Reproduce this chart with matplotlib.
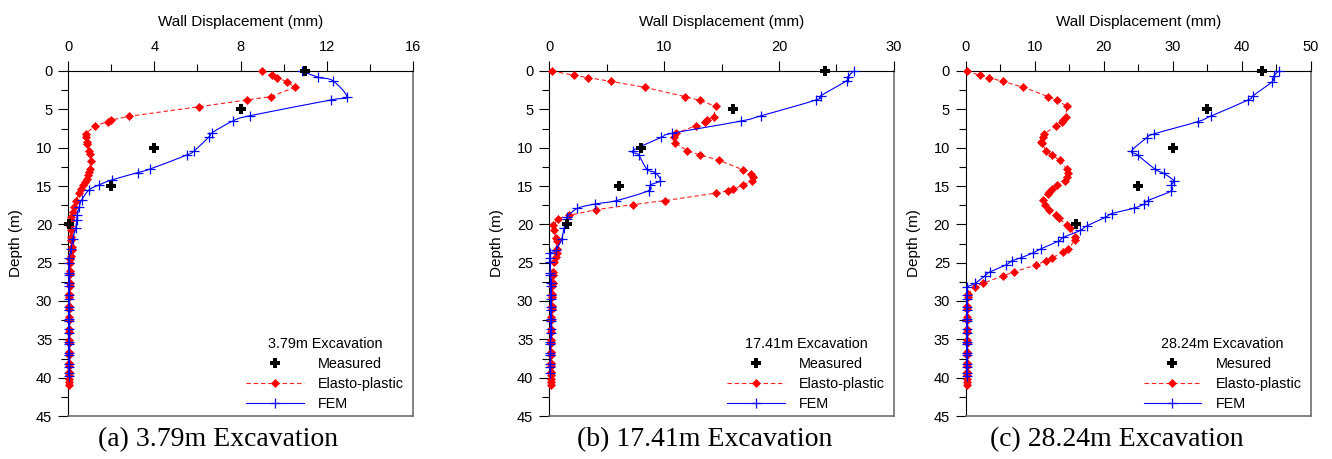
import matplotlib.pyplot as plt
from matplotlib.lines import Line2D
from matplotlib.patches import PathPatch
from matplotlib.path import Path
from matplotlib.ticker import MultipleLocator

plt.rcParams["font.family"] = ["Liberation Sans", "DejaVu Sans"]

# measured inclinometer readings (same depths in all stages)
measured_depth = [0, 5, 10, 15, 20]

# ---------------- (a) 3.79 m excavation ----------------
a_measured = [11.0, 8.0, 4.0, 2.0, 0.05]

a_ep_depth = [0, 0.57, 0.87, 1.39, 2.13, 3.35, 3.78, 4.65, 5.91, 6.4,
              6.6, 7.13, 8.17, 8.65, 9.22, 9.52, 10.39, 10.83, 11.7, 12.74,
              13.17, 13.6, 14.04, 14.48, 14.91, 15.43, 15.96, 16.96, 17.69, 18.35,
              19.0, 19.43, 20.2, 20.7, 21.6, 22.0, 23.0, 23.4, 24.1, 24.5,
              25.0, 26.1, 26.5, 27.6, 28.0, 29.1, 29.5, 30.6, 31.0, 32.1,
              32.5, 33.6, 34.0, 35.1, 35.5, 36.6, 37.0, 38.1, 38.5, 39.3,
              39.7, 40.2, 40.6, 41.0]
a_ep_disp = [9.01, 9.45, 9.68, 10.15, 10.52, 9.40, 8.29, 6.09, 2.82, 1.98,
             1.86, 1.24, 0.82, 0.82, 0.85, 0.88, 0.96, 1.0, 1.04, 1.0,
             0.98, 0.93, 0.85, 0.79, 0.70, 0.60, 0.50, 0.36, 0.26, 0.20,
             0.14, 0.12, 0.10, 0.11, 0.13, 0.14, 0.15, 0.15, 0.12, 0.10,
             0.08, 0.07, 0.07, 0.06, 0.06, 0.05, 0.05, 0.05, 0.05, 0.05,
             0.05, 0.05, 0.05, 0.05, 0.05, 0.05, 0.05, 0.05, 0.05, 0.05,
             0.05, 0.05, 0.05, 0.05]

a_fem_depth = [0, 0.83, 1.26, 3.35, 3.78, 5.83, 6.52, 8.04, 8.57, 10.39,
               10.96, 12.78, 13.26, 14.22, 14.87, 15.52, 16.83, 17.69, 18.78, 19.43,
               20.52, 21.95, 23.26, 24.43, 25.0, 26.3, 26.6, 27.7, 28.1, 29.2,
               29.7, 30.8, 31.2, 32.3, 32.6, 33.7, 34.2, 35.3, 35.6, 36.8,
               37.1, 38.2, 38.6, 39.4, 39.8]
a_fem_disp = [10.84, 11.62, 12.28, 12.93, 12.19, 8.44, 7.64, 6.69, 6.54, 5.86,
              5.50, 3.80, 3.22, 2.01, 1.42, 0.96, 0.62, 0.51, 0.42, 0.39,
              0.34, 0.20, 0.12, 0.02, 0.02, 0.02, 0.02, 0.01, 0.01, 0.01,
              0.01, 0.01, 0.01, 0.01, 0.01, 0.01, 0.01, 0.01, 0.01, 0.01,
              0.01, 0.01, 0.01, 0.01, 0.01]

# ---------------- (b) 17.41 m excavation ----------------
b_measured = [24.0, 16.0, 8.0, 6.05, 1.5]

b_ep_depth = [0, 0.57, 0.87, 1.35, 2.13, 3.35, 3.83, 4.61, 5.96, 6.39,
              6.6, 7.13, 8.13, 8.65, 9.35, 10.39, 10.96, 11.65, 12.87, 13.39,
              13.87, 14.3, 14.91, 15.39, 15.61, 15.91, 16.91, 17.43, 18.09, 18.83,
              19.26, 20.1, 20.7, 21.8, 22.2, 23.2, 23.8, 24.3, 24.9, 26.2,
              26.6, 27.6, 28.0, 29.1, 29.5, 30.6, 31.0, 32.1, 32.5, 33.6,
              34.0, 35.1, 35.5, 36.6, 37.0, 38.1, 38.5, 39.3, 39.7, 40.2,
              40.6, 41.0]
b_ep_disp = [0.23, 2.18, 3.38, 5.36, 8.33, 11.86, 13.11, 14.48, 14.33, 13.75,
             13.6, 12.79, 11.01, 10.84, 10.92, 12.03, 13.14, 14.8, 16.84, 17.54,
             17.71, 17.65, 16.9, 15.96, 15.56, 14.56, 10.08, 7.25, 4.08, 1.72,
             0.76, 0.35, 0.41, 0.55, 0.64, 0.70, 0.64, 0.58, 0.44, 0.35,
             0.30, 0.28, 0.25, 0.23, 0.22, 0.20, 0.20, 0.18, 0.18, 0.17,
             0.17, 0.16, 0.16, 0.15, 0.15, 0.15, 0.15, 0.14, 0.14, 0.14,
             0.14, 0.14]

b_fem_depth = [0, 0.74, 1.26, 3.22, 3.78, 5.83, 6.52, 8.13, 8.65, 10.39,
               10.96, 12.83, 13.26, 14.3, 14.87, 15.61, 16.91, 17.35, 17.91, 19.0,
               19.35, 20.52, 21.9, 23.35, 23.8, 24.4, 24.9, 26.3, 26.6, 27.7,
               28.1, 29.2, 29.7, 30.8, 31.2, 32.3, 32.6, 33.7, 34.2, 35.3,
               35.6, 36.8, 37.1, 38.2, 38.6, 39.4]
b_fem_disp = [26.5, 26.04, 25.9, 23.65, 23.22, 18.47, 16.72, 10.69, 9.76, 7.28,
              7.78, 8.51, 9.23, 9.67, 8.8, 8.65, 5.83, 3.99, 2.45, 1.57,
              1.51, 1.28, 1.08, 0.58, 0.06, 0.06, 0.08, 0.10, 0.10, 0.12,
              0.12, 0.12, 0.12, 0.12, 0.12, 0.12, 0.12, 0.12, 0.12, 0.10,
              0.10, 0.10, 0.08, 0.08, 0.06, 0.05]

# ---------------- (c) 28.24 m excavation ----------------
c_measured = [43.0, 35.0, 30.0, 24.9, 15.9]

c_ep_depth = [0, 0.57, 0.87, 1.35, 2.13, 3.35, 3.83, 4.61, 5.96, 6.39,
              6.65, 7.17, 8.22, 8.61, 9.22, 9.43, 10.39, 10.96, 11.65, 12.83,
              13.26, 13.87, 14.3, 14.91, 15.39, 15.78, 16.09, 16.83, 17.48, 18.13,
              18.78, 19.22, 20.1, 20.5, 21.6, 22.1, 23.2, 23.6, 24.4, 24.75,
              25.3, 26.2, 26.7, 27.7, 28.2, 29.1, 29.5, 30.6, 31.0, 32.1,
              32.5, 33.6, 34.0, 35.1, 35.5, 36.6, 37.0, 38.1, 38.5, 39.3,
              39.7, 40.2, 40.6, 41.0]
c_ep_disp = [0.1, 2.03, 3.29, 5.33, 8.33, 11.97, 13.27, 14.63, 14.53, 14.15,
             13.9, 13.03, 11.34, 11.14, 10.9, 11.0, 11.63, 12.45, 13.66, 14.63,
             14.78, 14.63, 14.39, 13.18, 12.55, 12.11, 11.87, 11.14, 11.48, 12.11,
             13.03, 13.52, 14.63, 15.1, 15.8, 15.8, 14.87, 14.15, 12.45, 11.63,
             10.17, 6.98, 5.43, 2.42, 1.31, 0.25, 0.22, 0.20, 0.20, 0.20,
             0.20, 0.20, 0.20, 0.20, 0.20, 0.20, 0.20, 0.20, 0.20, 0.20,
             0.20, 0.20, 0.20, 0.20]

c_fem_depth = [0, 0.65, 1.39, 3.22, 3.78, 5.87, 6.61, 8.22, 8.7, 10.43,
               10.96, 12.83, 13.35, 14.3, 14.87, 15.65, 16.91, 17.4, 17.9, 18.6,
               19.1, 20.2, 20.8, 21.7, 22.2, 23.2, 23.7, 24.35, 24.75, 25.3,
               26.2, 26.7, 27.7, 28.2, 29.2, 29.7, 30.8, 31.2, 32.3, 32.6,
               33.7, 34.2, 35.3, 35.6, 36.8, 37.1, 38.2, 38.6, 39.4, 39.8]
c_fem_disp = [45.4, 44.67, 44.43, 41.67, 40.94, 35.56, 33.62, 27.23, 26.26, 24.03,
              24.9, 27.47, 28.68, 30.14, 29.8, 29.75, 26.4, 25.78, 24.32, 21.17,
              20.2, 17.54, 16.57, 14.15, 13.42, 10.85, 9.79, 8.0, 6.69, 5.81,
              3.49, 2.76, 1.31, 0.2, 0.1, 0.1, 0.1, 0.1, 0.1, 0.1,
              0.1, 0.1, 0.1, 0.1, 0.1, 0.1, 0.1, 0.1, 0.1, 0.1]

W, H = 1332, 459
FEM_BLUE = "#0000ff"
EP_RED = "#ff0000"


def spline_path(xs, ys):
    # smooth curve through the points (Catmull-Rom as cubic Bezier segments)
    pts = list(zip(xs, ys))
    verts = [pts[0]]
    codes = [Path.MOVETO]
    n = len(pts)
    for i in range(n - 1):
        p0 = pts[max(i - 1, 0)]
        p1 = pts[i]
        p2 = pts[i + 1]
        p3 = pts[min(i + 2, n - 1)]
        c1 = (p1[0] + (p2[0] - p0[0]) / 6, p1[1] + (p2[1] - p0[1]) / 6)
        c2 = (p2[0] - (p3[0] - p1[0]) / 6, p2[1] - (p3[1] - p1[1]) / 6)
        verts += [c1, c2, p2]
        codes += [Path.CURVE4, Path.CURVE4, Path.CURVE4]
    return Path(verts, codes)


def plot_stage(fig, left_px, xmax, xmajor, ep, fem, measured, stage, meas_label, caption, caption_x):
    ax = fig.add_axes([left_px / W, (H - 416) / H, 344.5 / W, 345 / H])

    ax.plot(ep[1], ep[0], linestyle=(0, (4, 2.5)), color="#ff2020", linewidth=0.8,
            marker="D", markersize=4.2, markerfacecolor=EP_RED, markeredgecolor=EP_RED,
            markeredgewidth=0.5, clip_on=False, zorder=3)
    ax.add_patch(PathPatch(spline_path(fem[1], fem[0]), facecolor="none",
                           edgecolor=FEM_BLUE, linewidth=0.8, zorder=4))
    ax.plot(fem[1], fem[0], linestyle="none", color=FEM_BLUE,
            marker="+", markersize=7, markeredgewidth=0.9, clip_on=False, zorder=4)
    ax.plot(measured, measured_depth, linestyle="none", color="black",
            marker="P", markersize=6.5, markeredgewidth=0, clip_on=False, zorder=5)

    ax.set_xlim(0, xmax)
    ax.set_ylim(45, 0)
    ax.xaxis.tick_top()
    ax.xaxis.set_label_position("top")
    ax.xaxis.set_major_locator(MultipleLocator(xmajor))
    ax.xaxis.set_minor_locator(MultipleLocator(xmajor / 2))
    ax.yaxis.set_major_locator(MultipleLocator(5))
    ax.yaxis.set_minor_locator(MultipleLocator(2.5))
    ax.tick_params(which="both", direction="out", width=0.8, labelsize=10.5)
    ax.tick_params(which="major", length=7.5)
    ax.tick_params(which="minor", length=4.8)
    ax.tick_params(axis="x", pad=5)
    ax.tick_params(axis="y", pad=4)

    ax.set_xlabel("Wall Displacement (mm)", fontsize=11, labelpad=10)
    ax.set_ylabel("Depth (m)", fontsize=11, labelpad=9)

    for side in ("top", "left"):
        ax.spines[side].set_color("black")
        ax.spines[side].set_linewidth(0.8)
    for side in ("right", "bottom"):
        ax.spines[side].set_color("#6e6e6e")
        ax.spines[side].set_linewidth(1.2)

    handles = [
        Line2D([], [], linestyle="none", color="black", marker="P", markersize=6.5,
               markeredgewidth=0),
        Line2D([], [], linestyle=(0, (4, 2.5)), color="#ff2020", linewidth=0.8,
               marker="D", markersize=4.2, markerfacecolor=EP_RED,
               markeredgecolor=EP_RED, markeredgewidth=0.5),
        Line2D([], [], linestyle="-", color=FEM_BLUE, linewidth=0.8,
               marker="+", markersize=7, markeredgewidth=0.9),
    ]
    leg = ax.legend(handles, [meas_label, "Elasto-plastic", "FEM"],
                    title=stage, loc="center", bbox_to_anchor=(0.745, 0.122),
                    frameon=False, fontsize=10.4, title_fontsize=10.4,
                    handlelength=4.0, handletextpad=1.0, labelspacing=0.4,
                    borderpad=0.2)
    leg.get_title().set_ha("center")

    fig.text(caption_x / W, 1 - 440 / H, caption, ha="center", va="center",
             fontsize=20, family=["Liberation Serif", "DejaVu Serif"])
    return ax


fig = plt.figure(figsize=(W / 100, H / 100), dpi=100)

plot_stage(fig, 68.3, 16, 4, (a_ep_depth, a_ep_disp), (a_fem_depth, a_fem_disp),
           a_measured, "3.79m Excavation", "Measured", "(a) 3.79m Excavation", 218)
plot_stage(fig, 549.3, 30, 10, (b_ep_depth, b_ep_disp), (b_fem_depth, b_fem_disp),
           b_measured, "17.41m Excavation", "Measured", "(b) 17.41m Excavation", 705)
plot_stage(fig, 966, 50, 10, (c_ep_depth, c_ep_disp), (c_fem_depth, c_fem_disp),
           c_measured, "28.24m Excavation", "Mesured", "(c) 28.24m Excavation", 1117)

fig.savefig("out.png", dpi=100)
